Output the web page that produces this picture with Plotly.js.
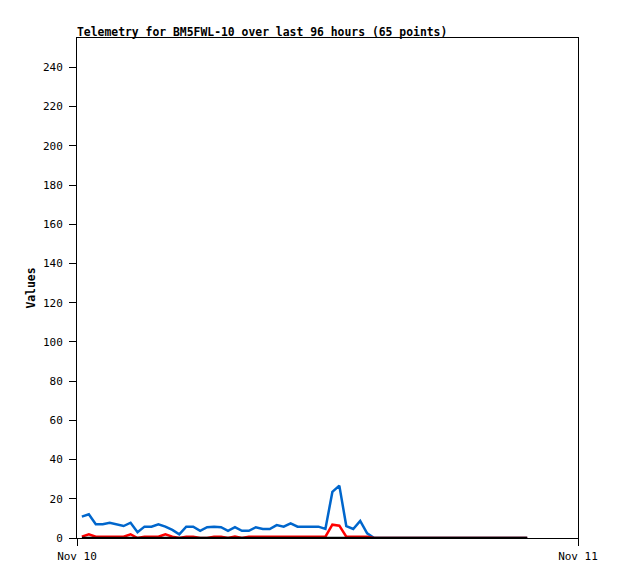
<!DOCTYPE html>
<html>
<head>
<meta charset="utf-8">
<script src="https://cdn.plot.ly/plotly-3.0.1.min.js"></script>
<style>html,body{margin:0;padding:0;background:#fff;}#chart{width:618px;height:579px;}</style>
</head>
<body>
<div id="chart"></div>
<script>
const times = [
"2024-11-10 00:14","2024-11-10 00:34","2024-11-10 00:54","2024-11-10 01:14","2024-11-10 01:34",
"2024-11-10 01:54","2024-11-10 02:14","2024-11-10 02:34","2024-11-10 02:54","2024-11-10 03:14",
"2024-11-10 03:34","2024-11-10 03:54","2024-11-10 04:14","2024-11-10 04:34","2024-11-10 04:54",
"2024-11-10 05:14","2024-11-10 05:34","2024-11-10 05:54","2024-11-10 06:14","2024-11-10 06:34",
"2024-11-10 06:54","2024-11-10 07:14","2024-11-10 07:34","2024-11-10 07:54","2024-11-10 08:14",
"2024-11-10 08:34","2024-11-10 08:54","2024-11-10 09:14","2024-11-10 09:34","2024-11-10 09:54",
"2024-11-10 10:14","2024-11-10 10:34","2024-11-10 10:54","2024-11-10 11:14","2024-11-10 11:34",
"2024-11-10 11:54","2024-11-10 12:14","2024-11-10 12:34","2024-11-10 12:54","2024-11-10 13:14",
"2024-11-10 13:34","2024-11-10 13:54","2024-11-10 14:14","2024-11-10 14:34","2024-11-10 14:54",
"2024-11-10 15:14","2024-11-10 15:34","2024-11-10 15:54","2024-11-10 16:14","2024-11-10 16:34",
"2024-11-10 16:54","2024-11-10 17:14","2024-11-10 17:34","2024-11-10 17:54","2024-11-10 18:14",
"2024-11-10 18:34","2024-11-10 18:54","2024-11-10 19:14","2024-11-10 19:34","2024-11-10 19:54",
"2024-11-10 20:14","2024-11-10 20:34","2024-11-10 20:54","2024-11-10 21:14","2024-11-10 21:34"
];
const blueValues = [
10.9, 12.1, 7, 7, 7.8, 7, 6.1, 7.8, 2.9, 5.8,
5.8, 7, 5.8, 4.1, 1.9, 5.8, 5.8, 3.7, 5.5, 5.8,
5.5, 3.7, 5.5, 3.7, 3.7, 5.5, 4.6, 4.6, 6.6, 5.8,
7.5, 5.8, 5.8, 5.8, 5.8, 4.6, 23.5, 26.7, 6.1, 4.6,
8.7, 2.4, 0, 0, 0, 0, 0, 0, 0, 0,
0, 0, 0, 0, 0, 0, 0, 0, 0, 0,
0, 0, 0, 0, 0
];
const redValues = [
0.7, 1.9, 0.7, 0.7, 0.7, 0.7, 0.7, 1.9, 0, 0.7,
0.7, 0.7, 1.9, 0.7, 0, 0.7, 0.7, 0, 0, 0.7,
0.7, 0, 0.7, 0, 0.7, 0.7, 0.7, 0.7, 0.7, 0.7,
0.7, 0.7, 0.7, 0.7, 0.7, 0.7, 6.8, 6.3, 0.7, 0.7,
0.7, 0.7, 0, 0, 0, 0, 0, 0, 0, 0,
0, 0, 0, 0, 0, 0, 0, 0, 0, 0,
0, 0, 0, 0, 0
];
const blackValues = [
0, 0, 0, 0, 0, 0, 0, 0, 0, 0,
0, 0, 0, 0, 0, 0, 0, 0, 0, 0,
0, 0, 0, 0, 0, 0, 0, 0, 0, 0,
0, 0, 0, 0, 0, 0, 0, 0, 0, 0,
0, 0, 0, 0, 0, 0, 0, 0, 0, 0,
0, 0, 0, 0, 0, 0, 0, 0, 0, 0,
0, 0, 0, 0, 0
];
const xTickVals = ["2024-11-10 00:00", "2024-11-11 00:00"];
const xTickText = ["Nov 10", "Nov 11"];
const titleText = "Telemetry for BM5FWL-10 over last 96 hours (65 points)";
const yTitle = "Values";

const FONT = "DejaVu Sans Mono, Liberation Mono, monospace";

const traces = [
  {x: times, y: blueValues, type: "scatter", mode: "lines", line: {color: "#0066cc", width: 2.5}, hoverinfo: "skip"},
  {x: times, y: redValues, type: "scatter", mode: "lines", line: {color: "#ff0000", width: 2.5}, hoverinfo: "skip"},
  {x: times, y: blackValues, type: "scatter", mode: "lines", line: {color: "#000000", width: 2.5}, hoverinfo: "skip"}
];

const layout = {
  width: 618, height: 579,
  margin: {l: 77, r: 40, t: 38, b: 41},
  paper_bgcolor: "#ffffff", plot_bgcolor: "#ffffff",
  showlegend: false,
  font: {family: FONT, size: 11, color: "#000"},
  title: {text: "<b>" + titleText + "</b>", x: 77/618, xref: "container", xanchor: "left",
          y: 1 - 32/579, yref: "container", yanchor: "middle",
          font: {family: FONT, size: 11.4, color: "#000"}},
  xaxis: {type: "date", range: [xTickVals[0], xTickVals[1]], tickmode: "array",
          tickvals: xTickVals, ticktext: xTickText, showgrid: false, zeroline: false,
          showline: true, mirror: true, linecolor: "#000", linewidth: 1,
          ticks: "outside", ticklen: 7, tickcolor: "#000", tickwidth: 1,
          ticklabelstandoff: 1,
          tickfont: {family: FONT, size: 11, color: "#000"}, fixedrange: true},
  yaxis: {range: [0, 255], tick0: 0, dtick: 20, showgrid: false, zeroline: false,
          showline: true, mirror: true, linecolor: "#000", linewidth: 1,
          ticks: "outside", ticklen: 7, tickcolor: "#000", tickwidth: 1,
          ticklabelstandoff: 4,
          tickfont: {family: FONT, size: 11, color: "#000"},
          title: {text: "<b>" + yTitle + "</b>", font: {family: FONT, size: 11.4, color: "#000"}, standoff: 4},
          fixedrange: true}
};

Plotly.newPlot("chart", traces, layout, {displayModeBar: false, staticPlot: true});
</script>
</body>
</html>
